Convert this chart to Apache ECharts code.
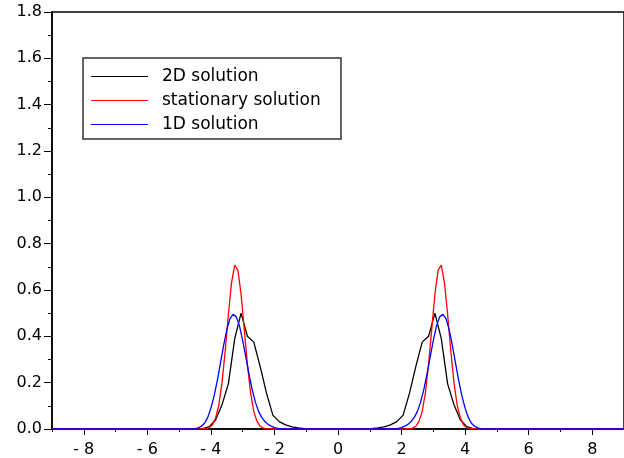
<!DOCTYPE html>
<html><head><meta charset="utf-8">
<script src="https://cdn.jsdelivr.net/npm/echarts@6/dist/echarts.min.js"></script>
<style>html,body{margin:0;padding:0;background:#fff}#c{width:624px;height:458px}</style>
</head><body><div id="c"></div>
<script>
const seriesNames = ['2D solution', 'stationary solution', '1D solution'];
const xTicks = [-8, -6, -4, -2, 0, 2, 4, 6, 8];
const xMinorTicks = [-9, -7, -5, -3, -1, 1, 3, 5, 7, 9];
const yTicks = [0, 0.2, 0.4, 0.6, 0.8, 1.0, 1.2, 1.4, 1.6, 1.8];

// 2D solution
const x2D = [-9, -4.45, -4.25, -4.05, -3.85, -3.65, -3.45, -3.25, -3.05, -2.85, -2.65, -2.45, -2.25, -2.05, -1.85, -1.65, -1.45, -1.25, -1.05, -0.85,
  0.85, 1.05, 1.25, 1.45, 1.65, 1.85, 2.05, 2.25, 2.45, 2.65, 2.85, 3.05, 3.25, 3.45, 3.65, 3.85, 4.05, 4.25, 4.45, 9];
const y2D = [0, 0, 0.002, 0.01, 0.04, 0.105, 0.195, 0.39, 0.50, 0.40, 0.375, 0.27, 0.155, 0.06, 0.032, 0.018, 0.009, 0.005, 0.002, 0,
  0, 0.002, 0.005, 0.009, 0.018, 0.032, 0.06, 0.155, 0.27, 0.375, 0.40, 0.50, 0.39, 0.195, 0.105, 0.04, 0.01, 0.002, 0, 0];

// stationary solution
const xStat = [-9, -4.35, -4.25, -4.15, -4.05, -3.95, -3.85, -3.75, -3.65, -3.55, -3.45, -3.35, -3.25, -3.15, -3.05, -2.95, -2.85, -2.75, -2.65, -2.55, -2.45, -2.35, -2.25, -2.15,
  2.15, 2.25, 2.35, 2.45, 2.55, 2.65, 2.75, 2.85, 2.95, 3.05, 3.15, 3.25, 3.35, 3.45, 3.55, 3.65, 3.75, 3.85, 3.95, 4.05, 4.15, 4.25, 4.35, 9];
const yStat = [0, 0, 0.001, 0.002, 0.006, 0.018, 0.048, 0.103, 0.200, 0.336, 0.494, 0.632, 0.707, 0.686, 0.582, 0.431, 0.278, 0.156, 0.076, 0.033, 0.012, 0.004, 0.001, 0,
  0, 0.001, 0.004, 0.012, 0.033, 0.076, 0.156, 0.278, 0.431, 0.582, 0.686, 0.707, 0.632, 0.494, 0.336, 0.200, 0.103, 0.048, 0.018, 0.006, 0.002, 0.001, 0, 0];

// 1D solution
const x1D = [-9, -4.6, -4.5, -4.4, -4.3, -4.2, -4.1, -4.0, -3.9, -3.8, -3.7, -3.6, -3.5, -3.4, -3.3, -3.2, -3.1, -3.0, -2.9, -2.8, -2.7, -2.6, -2.5, -2.4, -2.3, -2.2, -2.1, -2.0, -1.9, -1.8,
  1.8, 1.9, 2.0, 2.1, 2.2, 2.3, 2.4, 2.5, 2.6, 2.7, 2.8, 2.9, 3.0, 3.1, 3.2, 3.3, 3.4, 3.5, 3.6, 3.7, 3.8, 3.9, 4.0, 4.1, 4.2, 4.3, 4.4, 4.5, 4.6, 9];
const y1D = [0, 0, 0.002, 0.005, 0.012, 0.025, 0.050, 0.090, 0.142, 0.208, 0.283, 0.360, 0.428, 0.476, 0.495, 0.484, 0.445, 0.383, 0.310, 0.236, 0.170, 0.116, 0.076, 0.050, 0.032, 0.020, 0.012, 0.006, 0.003, 0,
  0, 0.003, 0.006, 0.012, 0.020, 0.032, 0.050, 0.076, 0.116, 0.170, 0.236, 0.310, 0.383, 0.445, 0.484, 0.495, 0.476, 0.428, 0.360, 0.283, 0.208, 0.142, 0.090, 0.050, 0.025, 0.012, 0.005, 0.002, 0, 0];

const colors = ['#000000', '#ff0000', '#0000ff'];
const FONT = 'DejaVu Sans';

function pairs(xs, ys) { return xs.map((x, i) => [x, ys[i]]); }
const seriesData = [pairs(x2D, y2D), pairs(xStat, yStat), pairs(x1D, y1D)];

const chart = echarts.init(document.getElementById('c'), null, { renderer: 'canvas' });
chart.setOption({
  animation: false,
  backgroundColor: '#fff',
  grid: { left: 52, top: 12, width: 578, height: 417, show: true, borderColor: '#000', borderWidth: 1.5, backgroundColor: 'transparent', containLabel: false },
  legend: {
    data: seriesNames, orient: 'vertical', left: 91, top: 68, padding: 0,
    icon: 'rect',
    itemWidth: 57, itemHeight: 1.2, itemGap: 7,
    textStyle: { fontFamily: FONT, fontSize: 17, color: '#000', padding: [0, 0, 0, 9] }
  },
  graphic: [{ type: 'rect', shape: { x: 83, y: 58, width: 258, height: 81 }, style: { stroke: '#333', fill: 'none', lineWidth: 1.5 }, z: 10 }],
  xAxis: [{
    type: 'value', min: -9, max: 9, position: 'bottom',
    axisLine: { show: true, onZero: false, lineStyle: { color: '#000', width: 1.5 } },
    axisTick: { show: true, customValues: xTicks, length: 6, inside: false, lineStyle: { color: '#000', width: 1 } },
    axisLabel: { show: true, customValues: xTicks, margin: 13, color: '#000', fontFamily: FONT, fontSize: 16,
      formatter: v => v < 0 ? '- ' + Math.abs(v) : String(v) },
    splitLine: { show: false }
  }, {
    type: 'value', min: -9, max: 9, position: 'bottom', gridIndex: 0,
    axisLine: { show: false },
    axisTick: { show: true, customValues: xMinorTicks, length: 3, lineStyle: { color: '#000', width: 1 } },
    axisLabel: { show: false },
    splitLine: { show: false }
  }],
  yAxis: {
    type: 'value', min: 0, max: 1.8, interval: 0.2,
    axisLine: { show: true, onZero: false, lineStyle: { color: '#000', width: 1.5 } },
    axisTick: { show: true, length: 8, lineStyle: { color: '#000', width: 1 } },
    minorTick: { show: true, splitNumber: 2, length: 4, lineStyle: { color: '#000', width: 1 } },
    axisLabel: { show: true, customValues: yTicks, margin: 10, color: '#000', fontFamily: FONT, fontSize: 16, formatter: v => v.toFixed(1) },
    splitLine: { show: false }
  },
  series: seriesNames.map((name, i) => ({
    name, type: 'line', xAxisIndex: 0, data: seriesData[i], symbol: 'none', showSymbol: false, smooth: false,
    lineStyle: { color: colors[i], width: 1.3 }, itemStyle: { color: colors[i] }, z: 2 + i
  }))
});
</script>
</body></html>
